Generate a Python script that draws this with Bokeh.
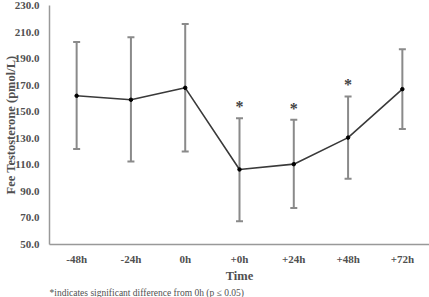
from bokeh.plotting import figure
from bokeh.models import ColumnDataSource, Whisker, TeeHead, Title, FixedTicker, NumeralTickFormatter
from bokeh.core.properties import value
from bokeh.embed import file_html
from bokeh.resources import INLINE

categories = ["-48h", "-24h", "0h", "+0h", "+24h", "+48h", "+72h"]
means = [162.0, 159.0, 168.0, 106.5, 110.5, 130.5, 167.0]
upper = [202.5, 206.0, 216.0, 145.0, 144.0, 161.5, 197.0]
lower = [122.0, 112.5, 120.0, 67.5, 77.5, 99.5, 137.0]
sig_cats = ["+0h", "+24h", "+48h"]
sig_upper = [145.0, 144.0, 161.5]
y_ticks = [50, 70, 90, 110, 130, 150, 170, 190, 210, 230]
footnote = "*indicates significant difference from 0h (p \u2264 0.05)"

FONT = "Liberation Serif"

src = ColumnDataSource(dict(x=categories, y=means, upper=upper, lower=lower))
sig = ColumnDataSource(dict(x=sig_cats, y=sig_upper, t=["*"] * len(sig_cats)))

p = figure(x_range=categories, y_range=(50, 230), width=429, height=297,
           output_backend="svg", toolbar_location=None,
           min_border_left=0, min_border_right=0, min_border_top=5, min_border_bottom=0)
p.outline_line_color = None
p.grid.grid_line_color = None
p.background_fill_color = "white"
p.border_fill_color = "white"

w = Whisker(base="x", upper="upper", lower="lower", source=src,
            line_color="#8a8a8a", line_width=2,
            upper_head=TeeHead(size=7, line_color="#8a8a8a", line_width=2),
            lower_head=TeeHead(size=7, line_color="#8a8a8a", line_width=2))
p.add_layout(w)

p.line("x", "y", source=src, line_color="#3a3a3a", line_width=1.6)
p.scatter("x", "y", source=src, size=3.5, color="black")

p.text("x", "y", text="t", source=sig, y_offset=-3, text_align="center",
       text_baseline="bottom", text_font=value(FONT), text_font_size="16px",
       text_font_style="bold", text_color="#444444")

for ax in (p.xaxis[0], p.yaxis[0]):
    ax.axis_line_color = "#999999"
    ax.axis_line_width = 1.5
    ax.major_tick_line_color = None
    ax.minor_tick_line_color = None
    ax.major_tick_out = 0
    ax.major_tick_in = 0
    ax.minor_tick_out = 0
    ax.minor_tick_in = 0
    ax.major_label_text_font = FONT
    ax.major_label_text_font_style = "bold"
    ax.major_label_text_font_size = "11px"
    ax.major_label_text_color = "#505050"
    ax.axis_label_text_font = FONT
    ax.axis_label_text_font_style = "bold"
    ax.axis_label_text_font_size = "12.5px"
    ax.axis_label_text_color = "#505050"

p.yaxis.ticker = FixedTicker(ticks=y_ticks)
p.yaxis.formatter = NumeralTickFormatter(format="0.0")
p.yaxis.major_label_standoff = 10
p.yaxis.axis_label = "Fee Testosterone (pmol/L)"
p.yaxis.axis_label_standoff = -6
p.xaxis.major_label_standoff = 8
p.xaxis.axis_label = "Time"
p.xaxis.axis_label_standoff = 1

note = Title(text=footnote, align="left", text_font=FONT, text_font_size="9.5px",
             text_font_style="normal", text_color="#505050", offset=0, standoff=0)
p.add_layout(note, "below")

open("out.html", "w").write(file_html(p, INLINE))
